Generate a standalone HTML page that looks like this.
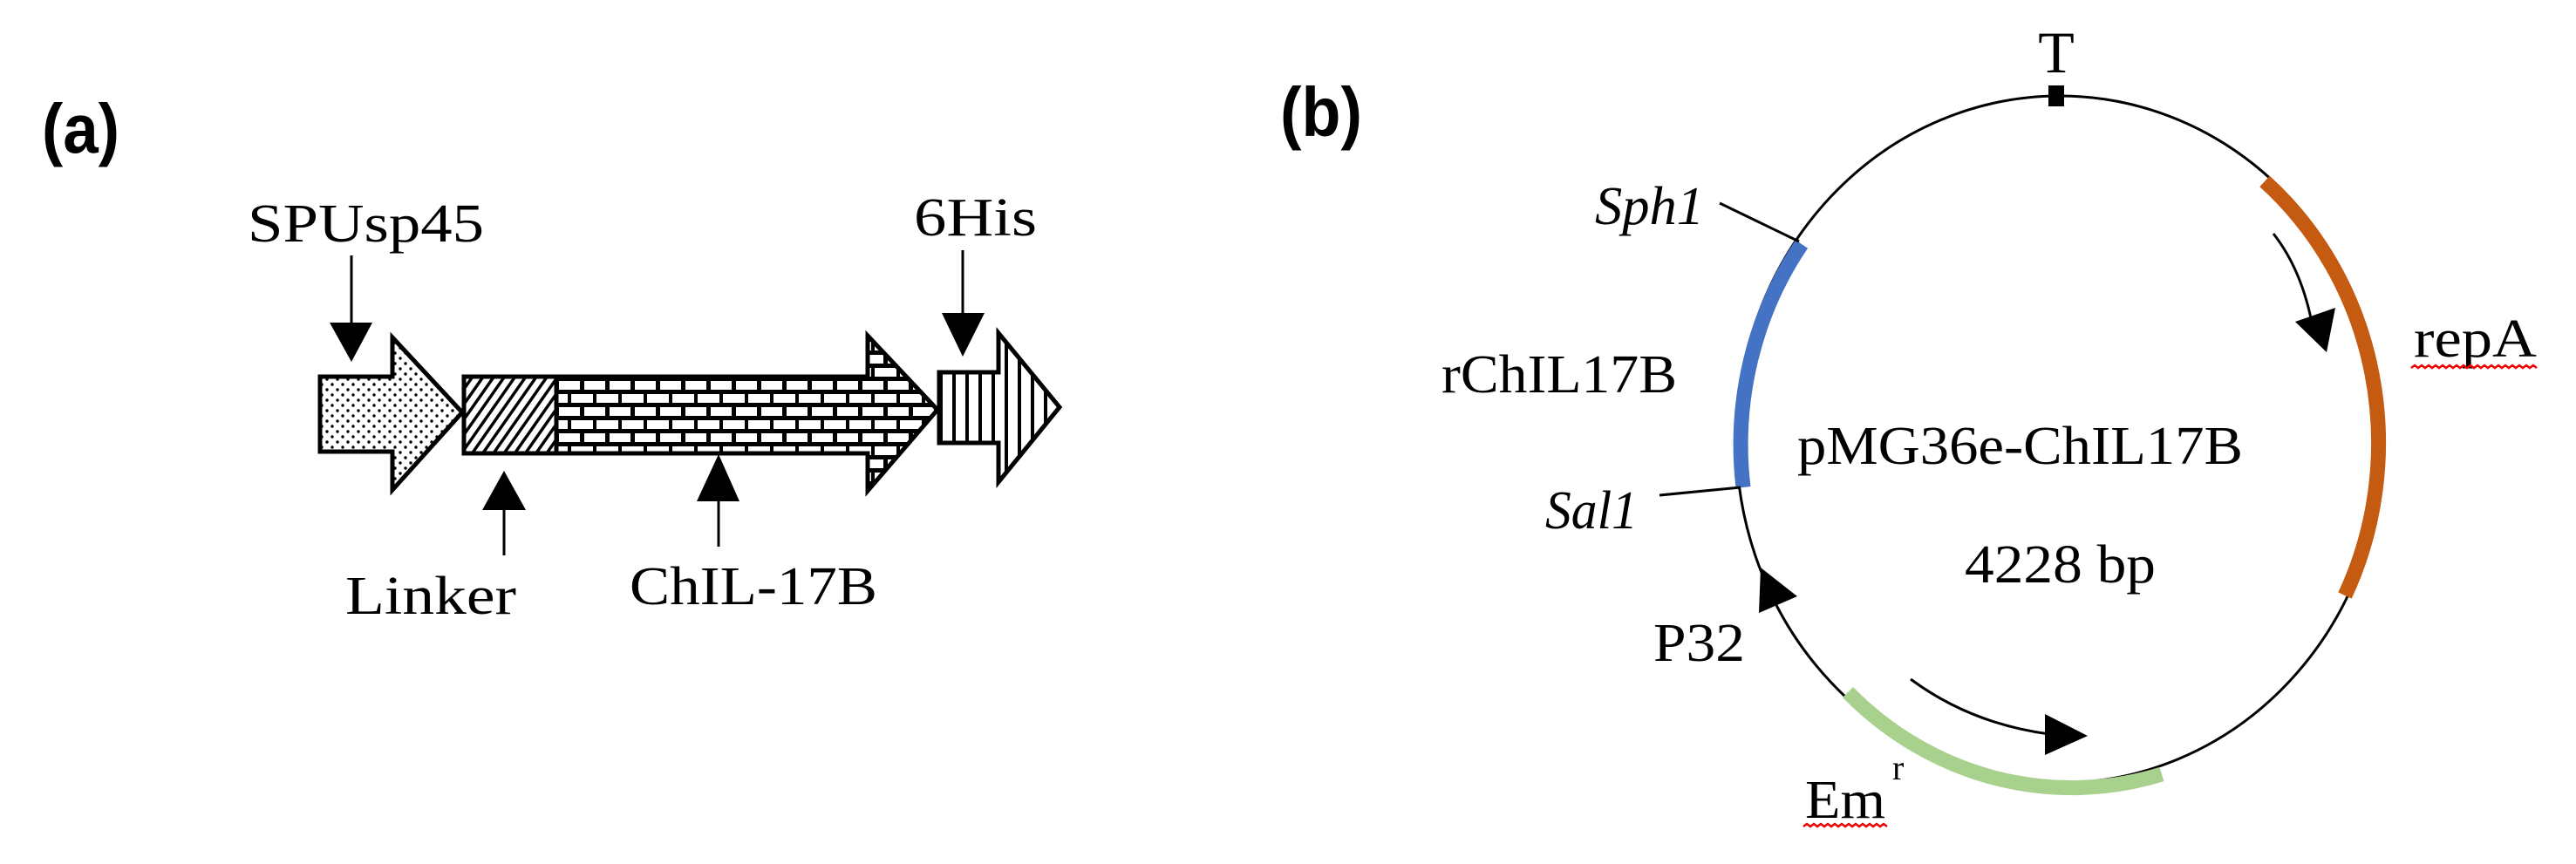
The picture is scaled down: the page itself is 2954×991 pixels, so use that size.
<!DOCTYPE html>
<html><head><meta charset="utf-8">
<style>html,body{margin:0;padding:0;background:#fff}svg{display:block}</style></head>
<body>
<svg width="2954" height="991" viewBox="0 0 2954 991" xmlns="http://www.w3.org/2000/svg">
<defs>
<pattern id="dots" width="12" height="12" patternUnits="userSpaceOnUse">
<rect width="12" height="12" fill="#fff"/>
<circle cx="3" cy="3" r="1.7" fill="#000"/><circle cx="9" cy="9" r="1.7" fill="#000"/>
</pattern>
<pattern id="hatch" width="10" height="10" patternUnits="userSpaceOnUse" patternTransform="rotate(35)">
<rect width="10" height="10" fill="#fff"/><rect x="0" y="0" width="3.5" height="10" fill="#000"/>
</pattern>
<pattern id="brick" x="638" y="434" width="29" height="30" patternUnits="userSpaceOnUse">
<rect width="29" height="30" fill="#000"/>
<rect x="3" y="3" width="24" height="10" fill="#fff"/>
<rect x="-11" y="18" width="24" height="10" fill="#fff"/>
<rect x="17" y="18" width="24" height="10" fill="#fff"/>
</pattern>
<pattern id="vstripe" x="1077" y="0" width="15" height="20" patternUnits="userSpaceOnUse">
<rect width="15" height="20" fill="#fff"/><rect x="0" width="4" height="20" fill="#000"/>
</pattern>
</defs>

<g font-family="Liberation Sans, sans-serif" font-weight="bold" font-size="80">
<text x="48" y="175" textLength="89" lengthAdjust="spacingAndGlyphs">(a)</text>
<text x="1468" y="156" textLength="94" lengthAdjust="spacingAndGlyphs">(b)</text>
</g>

<!-- panel a -->
<g stroke="#000" stroke-width="5" stroke-linejoin="miter">
<polygon points="367,432 450,432 450,387 530,473 450,562 450,518 367,518" fill="url(#dots)"/>
<rect x="532" y="432" width="106" height="88" fill="url(#hatch)"/>
<polygon points="638,432 995,432 995,385 1075,470 995,563 995,520 638,520" fill="url(#brick)"/>
<polygon points="1077,427 1145,427 1145,382 1215,467 1145,553 1145,508 1077,508" fill="url(#vstripe)"/>
</g>
<g stroke="#000" stroke-width="3">
<line x1="403" y1="293" x2="403" y2="372"/>
<line x1="1104" y1="287" x2="1104" y2="362"/>
<line x1="578" y1="580" x2="578" y2="637"/>
<line x1="824" y1="570" x2="824" y2="627"/>
</g>
<g fill="#000">
<polygon points="378,370 427,370 403,415"/>
<polygon points="1080,359 1129,359 1104,409"/>
<polygon points="553,585 603,585 578,540"/>
<polygon points="799,575 848,575 824,521"/>
</g>
<g font-family="Liberation Serif, serif" font-size="62" fill="#000">
<text x="284" y="277" textLength="271" lengthAdjust="spacingAndGlyphs">SPUsp45</text>
<text x="1048" y="270" textLength="141" lengthAdjust="spacingAndGlyphs">6His</text>
<text x="396" y="704" textLength="196" lengthAdjust="spacingAndGlyphs">Linker</text>
<text x="722" y="693" textLength="284" lengthAdjust="spacingAndGlyphs">ChIL-17B</text>
</g>

<!-- panel b -->
<ellipse cx="2362" cy="504" rx="371" ry="394" fill="none" stroke="#000" stroke-width="3"/>
<rect x="2349" y="98" width="18" height="24" fill="#000"/>
<g fill="none" stroke-width="17" stroke-linecap="butt">
<path d="M2066,280 A371,394 0 0 0 1999,559" stroke="#4472C4"/>
<path d="M2597,208 A371,394 0 0 1 2689,683" stroke="#C55A11"/>
<path d="M2479,888 A371,394 0 0 1 2119,794" stroke="#A9D18E"/>
</g>
<g stroke="#000" stroke-width="3" fill="none">
<line x1="1972" y1="233" x2="2063" y2="277"/>
<line x1="1903" y1="568" x2="1996" y2="559"/>
<path d="M2607,268 Q2640,310 2652,375"/>
<path d="M2191,779 Q2260,830 2350,842"/>
</g>
<g fill="#000">
<polygon points="2019,651 2017,703 2061,684"/>
<polygon points="2632,369 2678,353 2668,404"/>
<polygon points="2345,819 2345,866 2394,844"/>
</g>
<g font-family="Liberation Serif, serif" font-size="62" fill="#000">
<text x="2358" y="83" text-anchor="middle" font-size="68">T</text>
<text x="1829" y="257" font-style="italic" textLength="125" lengthAdjust="spacingAndGlyphs">Sph1</text>
<text x="1653" y="450" textLength="270" lengthAdjust="spacingAndGlyphs">rChIL17B</text>
<text x="1772" y="606" font-style="italic" textLength="106" lengthAdjust="spacingAndGlyphs">Sal1</text>
<text x="1896" y="758" textLength="105" lengthAdjust="spacingAndGlyphs">P32</text>
<text x="2061" y="532" textLength="511" lengthAdjust="spacingAndGlyphs">pMG36e-ChIL17B</text>
<text x="2253" y="668" textLength="219" lengthAdjust="spacingAndGlyphs">4228 bp</text>
<text x="2768" y="409" textLength="141" lengthAdjust="spacingAndGlyphs">repA</text>
<text x="2070" y="938" textLength="92" lengthAdjust="spacingAndGlyphs">Em</text>
<text x="2170" y="894" font-size="40">r</text>
</g>
<g fill="none" stroke="#e00" stroke-width="2.5">
<path d="M2765,422 l4,-3 l4,3 l4,-3 l4,3 l4,-3 l4,3 l4,-3 l4,3 l4,-3 l4,3 l4,-3 l4,3 l4,-3 l4,3 l4,-3 l4,3 l4,-3 l4,3 l4,-3 l4,3 l4,-3 l4,3 l4,-3 l4,3 l4,-3 l4,3 l4,-3 l4,3 l4,-3 l4,3 l4,-3 l4,3 l4,-3 l4,3 l4,-3 l4,3"/>
<path d="M2068,948 l4,-3 l4,3 l4,-3 l4,3 l4,-3 l4,3 l4,-3 l4,3 l4,-3 l4,3 l4,-3 l4,3 l4,-3 l4,3 l4,-3 l4,3 l4,-3 l4,3 l4,-3 l4,3 l4,-3 l4,3 l4,-3 l4,3"/>
</g>
</svg>
</body></html>
